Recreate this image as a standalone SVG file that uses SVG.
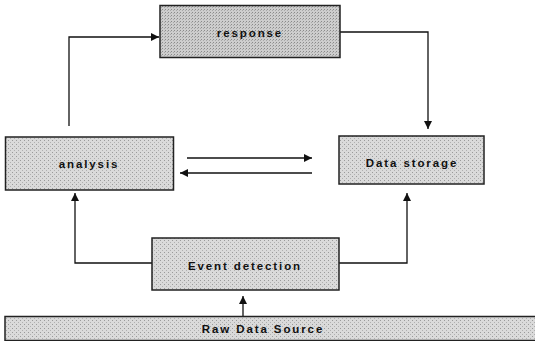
<svg xmlns="http://www.w3.org/2000/svg" width="535" height="341" viewBox="0 0 535 341">
<defs>
<pattern id="ht" width="4" height="4" patternUnits="userSpaceOnUse">
<rect width="4" height="4" fill="#dadada"/>
<rect x="0" y="0" width="1" height="1" fill="#9a9a9a"/>
<rect x="2" y="2" width="1" height="1" fill="#b0b0b0"/>
</pattern>
<pattern id="htd" width="3" height="3" patternUnits="userSpaceOnUse">
<rect width="3" height="3" fill="#cdcdcd"/>
<rect x="0" y="0" width="1" height="1" fill="#8a8a8a"/>
<rect x="2" y="1" width="1" height="1" fill="#a8a8a8"/>
</pattern>
<marker id="ah" viewBox="0 0 10 10" refX="10" refY="5" markerWidth="9" markerHeight="8" markerUnits="userSpaceOnUse" orient="auto">
<path d="M0,0 L10,5 L0,10 z" fill="#111"/>
</marker>
</defs>
<style>
.box{stroke:#222;stroke-width:1.5}
.lbl{font-family:"Liberation Sans",Arial,sans-serif;font-weight:bold;font-size:11.5px;letter-spacing:1.9px;fill:#111;text-anchor:middle}
.c{fill:none;stroke:#111;stroke-width:1.3}
</style>
<rect width="535" height="341" fill="#fff"/>
<g id="connectors">
<path class="c" d="M69,126 V37 H159" marker-end="url(#ah)"/>
<path class="c" d="M340,32 H428 V129" marker-end="url(#ah)"/>
<path class="c" d="M187,158 H312" marker-end="url(#ah)"/>
<path class="c" d="M312,173 H180" marker-end="url(#ah)"/>
<path class="c" d="M152,263 H75 V193" marker-end="url(#ah)"/>
<path class="c" d="M339,263 H407 V193" marker-end="url(#ah)"/>
<path class="c" d="M243,316 V296" marker-end="url(#ah)"/>
</g>
<g id="response">
<rect class="box" x="160" y="5.5" width="180" height="52" fill="url(#htd)"/>
<text class="lbl" x="250" y="37">response</text>
</g>
<g id="analysis">
<rect class="box" x="5.5" y="137" width="168" height="53" fill="url(#ht)"/>
<text class="lbl" x="89" y="168">analysis</text>
</g>
<g id="data-storage">
<rect class="box" x="339" y="136" width="145" height="48" fill="url(#ht)"/>
<text class="lbl" x="412" y="167">Data storage</text>
</g>
<g id="event-detection">
<rect class="box" x="152" y="238" width="187" height="52" fill="url(#ht)"/>
<text class="lbl" x="245" y="270">Event detection</text>
</g>
<g id="raw-data-source">
<rect class="box" x="5" y="316.5" width="535" height="24" fill="url(#ht)"/>
<text class="lbl" x="263" y="333">Raw Data Source</text>
</g>
</svg>
